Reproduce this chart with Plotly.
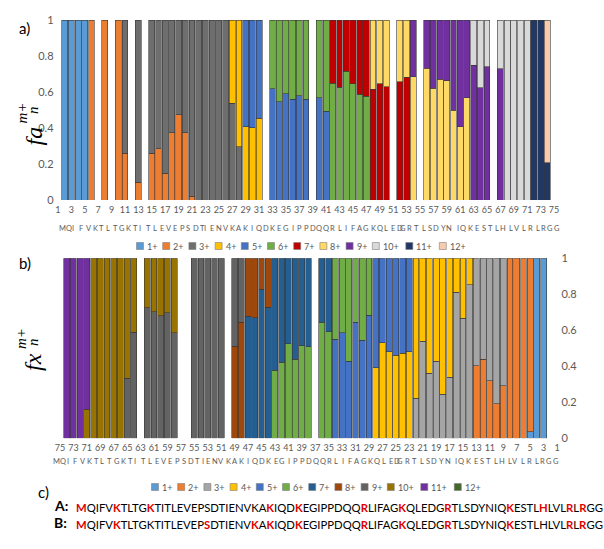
import plotly.graph_objects as go

W, H = 604, 549

# ---------------- data ----------------
charges = ["1+", "2+", "3+", "4+", "5+", "6+", "7+", "8+", "9+", "10+", "11+", "12+"]
colors_a = ["#5B9BD5", "#ED7D31", "#6E6E6E", "#FFC000", "#4472C4", "#70AD47",
            "#C00000", "#FFD966", "#7030A0", "#D9D9D9", "#203864", "#F8CBAD"]
colors_b = ["#5B9BD5", "#ED7D31", "#A5A5A5", "#FFC000", "#4472C4", "#70AD47",
            "#255E91", "#9E480E", "#636363", "#997300", "#7030A0", "#43682B"]

positions = list(range(1, 76))
sequence = "MQIFVKTLTGKTITLEVEPSDTIENVKAKIQDKEGIPPDQQRLIFAGKQLEDGRTLSDYNIQKESTLHLVLRLRGG"

# panel a (a-ions): lower charge state, its fraction, upper charge state (0 = none)
a_low_charge = [0, 1, 1, 1, 1, 2, 0, 2, 0, 2,
                2, 0, 2, 0, 2, 2, 2, 2, 2, 2,
                2, 3, 3, 3, 3, 3, 3, 3, 4, 4,
                4, 0, 5, 5, 5, 5, 5, 5, 0, 5,
                5, 6, 6, 6, 6, 6, 6, 7, 7, 7,
                0, 7, 7, 8, 0, 8, 8, 8, 8, 8,
                8, 8, 9, 9, 9, 0, 9, 10, 10, 10,
                10, 11, 11, 11, 0]
a_low_frac = [0, 1, 1, 1, 1, 1, 0, 1, 0, 1,
              0.26, 0, 0.10, 0, 0.26, 0.285, 0.15, 0.375, 0.475, 0.375,
              0.02, 1, 1, 1, 1, 1, 0.537, 0.296, 0.406, 0.402,
              0.454, 0, 0.619, 0.546, 0.591, 0.559, 0.578, 0.559, 0, 0.567,
              0.494, 0.648, 0.626, 0.715, 0.645, 0.588, 0.576, 0.615, 0.646, 0.628,
              0, 0.658, 0.682, 0.686, 0, 0.733, 0.620, 0.672, 0.663, 0.498,
              0.406, 0.569, 0.75, 0.624, 0.741, 0, 0.728, 1, 1, 1,
              1, 1, 1, 0.208, 0]
a_high_charge = [0, 0, 0, 0, 0, 0, 0, 0, 0, 0,
                 3, 0, 3, 0, 3, 3, 3, 3, 3, 3,
                 3, 0, 0, 0, 0, 0, 4, 4, 5, 5,
                 5, 0, 6, 6, 6, 6, 6, 6, 0, 6,
                 6, 7, 7, 7, 7, 7, 7, 8, 8, 8,
                 0, 8, 8, 9, 0, 9, 9, 9, 9, 9,
                 9, 9, 10, 10, 10, 0, 10, 0, 0, 0,
                 0, 0, 0, 12, 0]

# panel b (x-ions), indexed n = 1..75
b_low_charge = [0, 0, 1, 1, 1, 2, 2, 2, 2, 2,
                2, 2, 2, 3, 3, 3, 3, 3, 3, 3,
                3, 3, 4, 4, 4, 4, 4, 4, 5, 5,
                5, 5, 5, 5, 6, 6, 0, 6, 6, 6,
                6, 6, 6, 7, 7, 7, 7, 8, 8, 0,
                9, 9, 9, 9, 9, 0, 0, 9, 9, 9,
                9, 9, 0, 9, 9, 10, 10, 10, 10, 10,
                10, 11, 11, 11, 0]
b_low_frac = [0, 0, 1, 1, 0.035, 1, 1, 1, 0.293, 0.191,
              0.321, 0.44, 0.404, 0.852, 0.668, 0.812, 0.339, 0.244, 0.427, 0.362,
              0.538, 0.223, 0.48, 0.473, 0.462, 0.482, 0.53, 0.391, 0.683, 0.544,
              0.646, 0.428, 0.587, 0.55, 0.593, 0.644, 0, 0.509, 0.513, 0.438,
              0.526, 0.422, 0.377, 0.729, 0.828, 0.670, 0.678, 0.644, 0.511, 0,
              1, 1, 1, 1, 1, 0, 0, 0.587, 0.698, 0.68,
              0.704, 0.726, 0, 0.589, 0.333, 1, 1, 1, 1, 1,
              0.161, 1, 1, 1, 0]
b_high_charge = [0, 0, 0, 0, 2, 0, 0, 0, 3, 3,
                 3, 3, 3, 4, 4, 4, 4, 4, 4, 4,
                 4, 4, 5, 5, 5, 5, 5, 5, 6, 6,
                 6, 6, 6, 6, 7, 7, 0, 7, 7, 7,
                 7, 7, 7, 8, 8, 8, 8, 9, 9, 0,
                 0, 0, 0, 0, 0, 0, 0, 10, 10, 10,
                 10, 10, 0, 10, 10, 0, 0, 0, 0, 0,
                 11, 0, 0, 0, 0]

tick_a = list(range(1, 76, 2))
tick_b = list(range(75, 0, -2))

red_A = [1, 6, 11, 29, 33, 42, 48, 54, 63, 68, 72, 74]
red_B = [1, 6, 20, 27, 29, 33, 42, 48, 54, 63, 72, 74]

# ---------------- helpers ----------------
FONT = "Lato, 'Open Sans', sans-serif"
SERIF = "'Liberation Serif', 'DejaVu Serif', serif"
GRAY = "#595959"
EDGE = "rgba(55,55,55,0.85)"


def px(x):
    return x / W


def py(y):
    return 1 - y / H


def series(low_c, low_f, high_c, c):
    out = []
    for lc, lf, hc in zip(low_c, low_f, high_c):
        if lc == c:
            out.append(lf)
        elif hc == c:
            out.append(1 - lf)
        else:
            out.append(None)
    return out


fig = go.Figure()

for i, ch in enumerate(charges):
    fig.add_trace(go.Bar(
        x=positions, y=series(a_low_charge, a_low_frac, a_high_charge, i + 1),
        name=ch, marker=dict(color=colors_a[i], line=dict(color=EDGE, width=0.7)),
        xaxis="x", yaxis="y", showlegend=False))
for i, ch in enumerate(charges):
    fig.add_trace(go.Bar(
        x=positions, y=series(b_low_charge, b_low_frac, b_high_charge, i + 1),
        name=ch, marker=dict(color=colors_b[i], line=dict(color=EDGE, width=0.7)),
        xaxis="x2", yaxis="y2", showlegend=False))

axis_common = dict(showgrid=False, zeroline=False, showline=False, ticks="",
                   automargin=False)

fig.update_layout(
    template="none",
    width=W, height=H, margin=dict(l=0, r=0, t=0, b=0, pad=0),
    paper_bgcolor="white", plot_bgcolor="white",
    barmode="stack", bargap=0.12,
    font=dict(family=FONT, color=GRAY),
    xaxis=dict(domain=[px(54.6), px(557.4)], range=[0.5, 75.5], anchor="y",
               tickmode="array", tickvals=tick_a, ticktext=[str(t) for t in tick_a],
               ticklabelstandoff=3,
               tickfont=dict(family=FONT, color=GRAY, size=9), **axis_common),
    yaxis=dict(domain=[py(200), py(20)], range=[0, 1], dtick=0.2, anchor="x",
               tickfont=dict(family=FONT, color=GRAY, size=11), **axis_common),
    xaxis2=dict(domain=[px(56.6), px(560.4)], range=[75.5, 0.5], anchor="y2",
                tickmode="array", tickvals=tick_b, ticktext=[str(t) for t in tick_b],
                ticklabelstandoff=3,
                tickfont=dict(family=FONT, color=GRAY, size=9), **axis_common),
    yaxis2=dict(domain=[py(438.3), py(258.3)], range=[0, 1], dtick=0.2, anchor="x2",
                side="right", tickfont=dict(family=FONT, color=GRAY, size=11),
                **axis_common),
)

annotations = []
shapes = []

# residue letter rows (label rows beneath the category axes)
for i, ch in enumerate(sequence):
    annotations.append(dict(text=ch, x=px(58 + 6.703 * i), y=py(228), xref="paper",
                            yref="paper", showarrow=False, borderpad=0,
                            font=dict(size=7.5, color=GRAY, family=FONT)))
    annotations.append(dict(text=ch, x=px(52 + 6.773 * i), y=py(467), xref="paper",
                            yref="paper", showarrow=False, borderpad=0,
                            font=dict(size=7.5, color=GRAY, family=FONT)))

# panel labels
for lbl, x, y in [("a)", 17, 17), ("b)", 17, 263), ("c)", 36, 503)]:
    annotations.append(dict(text=lbl, x=px(x), y=py(y), xref="paper", yref="paper",
                            showarrow=False, font=dict(size=15, color="black", family=FONT)))

# y-axis titles: f a / f x with stacked sub- and superscripts (rotated)
for base, yb, ys in [("fa", 125, 101), ("fx", 362, 339)]:
    annotations.append(dict(text="<i>" + base + "</i>", x=px(18), y=py(yb), xref="paper",
                            yref="paper", showarrow=False, textangle=-90,
                            font=dict(size=24, color="black", family=SERIF)))
    annotations.append(dict(text="<i>m+</i>", x=px(11), y=py(ys), xref="paper",
                            yref="paper", showarrow=False, textangle=-90,
                            font=dict(size=15, color="black", family=SERIF)))
    annotations.append(dict(text="<i>n</i>", x=px(23), y=py(ys + 3), xref="paper",
                            yref="paper", showarrow=False, textangle=-90,
                            font=dict(size=15, color="black", family=SERIF)))


# manual legends
def legend(x0, yc, cols):
    x = x0
    for ch, col in zip(charges, cols):
        shapes.append(dict(type="rect", xref="paper", yref="paper",
                           x0=px(x - 3.5), x1=px(x + 3.5), y0=py(yc + 3.5), y1=py(yc - 3.5),
                           fillcolor=col, line=dict(color="#7F7F7F", width=0.6)))
        annotations.append(dict(text=ch, x=px(x + 5), y=py(yc), xref="paper", yref="paper",
                                xanchor="left", yanchor="middle", showarrow=False,
                                font=dict(size=9, color=GRAY, family=FONT)))
        x += 26.2 if len(ch) == 2 else 33.5


legend(140, 246, colors_a)
legend(155, 487, colors_b)


def seq_html(reds):
    out = []
    for i, ch in enumerate(sequence, start=1):
        if i in reds:
            out.append("<span style='color:#E00000'><b>" + ch + "</b></span>")
        else:
            out.append(ch)
    return "".join(out)


for lbl, reds, y in [("A:", red_A, 516), ("B:", red_B, 533)]:
    annotations.append(dict(text="<b>" + lbl + "</b>", x=px(52), y=py(y), xref="paper",
                            yref="paper", xanchor="left", showarrow=False,
                            font=dict(size=14, color="black", family=FONT)))
    annotations.append(dict(text=seq_html(reds), x=px(74), y=py(y), xref="paper",
                            yref="paper", xanchor="left", showarrow=False,
                            font=dict(size=11.3, color="black", family=FONT)))

fig.update_layout(annotations=annotations, shapes=shapes)
fig.write_html("out.html",
               config={"displayModeBar": False, "staticPlot": True},
               post_script="document.body.style.margin='0px';"
                           "document.body.style.overflow='hidden';")
